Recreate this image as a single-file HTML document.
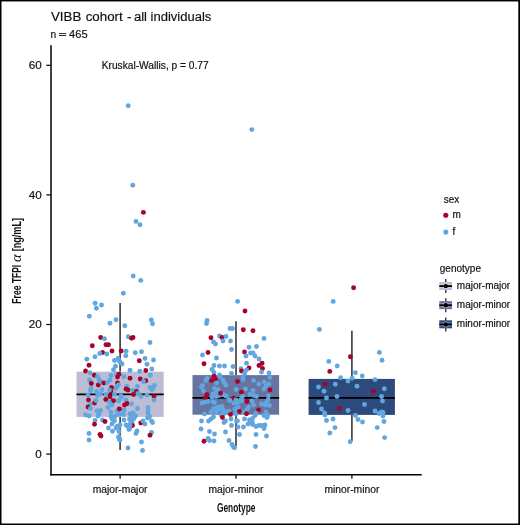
<!DOCTYPE html>
<html><head><meta charset="utf-8"><style>
html,body{margin:0;padding:0;background:#fff;}
svg{display:block;will-change:transform;font-family:"Liberation Sans",sans-serif;fill:#1a1a1a;}
text{fill:#111;stroke:#111;stroke-width:0.18px;}
</style></head><body>
<svg width="520" height="525" viewBox="0 0 520 525">
<rect x="0" y="0" width="520" height="525" fill="#fff"/>
<line x1="120.1" y1="303.0" x2="120.1" y2="371.7" stroke="#2b2b2b" stroke-width="1.5"/>
<line x1="120.1" y1="416.9" x2="120.1" y2="449.9" stroke="#2b2b2b" stroke-width="1.5"/>
<rect x="76.5" y="371.7" width="87.20" height="45.20" fill="#bbbdd4"/>
<line x1="76.5" y1="394.4" x2="163.7" y2="394.4" stroke="#000" stroke-width="1.8"/>
<line x1="236.0" y1="321.3" x2="236.0" y2="375.1" stroke="#2b2b2b" stroke-width="1.5"/>
<line x1="236.0" y1="414.7" x2="236.0" y2="446.2" stroke="#2b2b2b" stroke-width="1.5"/>
<rect x="192.5" y="375.1" width="86.60" height="39.60" fill="#67749f"/>
<line x1="192.5" y1="397.9" x2="279.1" y2="397.9" stroke="#000" stroke-width="1.8"/>
<line x1="351.9" y1="330.7" x2="351.9" y2="378.9" stroke="#2b2b2b" stroke-width="1.5"/>
<line x1="351.9" y1="414.9" x2="351.9" y2="441.0" stroke="#2b2b2b" stroke-width="1.5"/>
<rect x="308.6" y="378.9" width="86.30" height="36.00" fill="#2d4a7d"/>
<line x1="308.6" y1="397.9" x2="394.9" y2="397.9" stroke="#000" stroke-width="1.8"/>
<circle cx="128.2" cy="105.8" r="2.45" fill="#62a6e0"/>
<circle cx="132.8" cy="185.2" r="2.45" fill="#62a6e0"/>
<circle cx="143.4" cy="212.4" r="2.45" fill="#a6032b"/>
<circle cx="136.0" cy="221.4" r="2.45" fill="#62a6e0"/>
<circle cx="140.0" cy="224.8" r="2.45" fill="#62a6e0"/>
<circle cx="133.2" cy="276.0" r="2.45" fill="#62a6e0"/>
<circle cx="140.8" cy="280.4" r="2.45" fill="#62a6e0"/>
<circle cx="123.3" cy="293.2" r="2.45" fill="#62a6e0"/>
<circle cx="95.1" cy="303.3" r="2.45" fill="#62a6e0"/>
<circle cx="101.5" cy="305.0" r="2.45" fill="#62a6e0"/>
<circle cx="96.4" cy="308.2" r="2.45" fill="#62a6e0"/>
<circle cx="89.3" cy="316.2" r="2.45" fill="#62a6e0"/>
<circle cx="116.0" cy="319.8" r="2.45" fill="#62a6e0"/>
<circle cx="110.0" cy="323.2" r="2.45" fill="#62a6e0"/>
<circle cx="124.8" cy="325.8" r="2.45" fill="#62a6e0"/>
<circle cx="151.3" cy="320.0" r="2.45" fill="#62a6e0"/>
<circle cx="152.5" cy="323.8" r="2.45" fill="#62a6e0"/>
<circle cx="100.7" cy="337.5" r="2.45" fill="#a6032b"/>
<circle cx="104.5" cy="338.7" r="2.45" fill="#62a6e0"/>
<circle cx="92.3" cy="345.7" r="2.45" fill="#a6032b"/>
<circle cx="106.0" cy="344.8" r="2.45" fill="#a6032b"/>
<circle cx="108.5" cy="344.8" r="2.45" fill="#a6032b"/>
<circle cx="112.0" cy="351.0" r="2.45" fill="#a6032b"/>
<circle cx="121.2" cy="351.0" r="2.45" fill="#a6032b"/>
<circle cx="102.5" cy="352.5" r="2.45" fill="#a6032b"/>
<circle cx="99.8" cy="353.5" r="2.45" fill="#62a6e0"/>
<circle cx="106.8" cy="354.0" r="2.45" fill="#62a6e0"/>
<circle cx="95.0" cy="356.8" r="2.45" fill="#62a6e0"/>
<circle cx="86.8" cy="359.2" r="2.45" fill="#62a6e0"/>
<circle cx="114.5" cy="360.5" r="2.45" fill="#62a6e0"/>
<circle cx="118.0" cy="358.5" r="2.45" fill="#62a6e0"/>
<circle cx="120.0" cy="362.0" r="2.45" fill="#62a6e0"/>
<circle cx="89.0" cy="365.2" r="2.45" fill="#a6032b"/>
<circle cx="115.5" cy="366.2" r="2.45" fill="#62a6e0"/>
<circle cx="113.5" cy="369.8" r="2.45" fill="#62a6e0"/>
<circle cx="85.5" cy="371.0" r="2.45" fill="#a6032b"/>
<circle cx="89.8" cy="372.8" r="2.45" fill="#62a6e0"/>
<circle cx="94.3" cy="375.3" r="2.45" fill="#a6032b"/>
<circle cx="97.5" cy="376.5" r="2.45" fill="#62a6e0"/>
<circle cx="111.0" cy="375.5" r="2.45" fill="#62a6e0"/>
<circle cx="116.5" cy="374.0" r="2.45" fill="#62a6e0"/>
<circle cx="119.0" cy="374.3" r="2.45" fill="#a6032b"/>
<circle cx="117.5" cy="377.0" r="2.45" fill="#a6032b"/>
<circle cx="89.5" cy="380.0" r="2.45" fill="#62a6e0"/>
<circle cx="99.0" cy="379.5" r="2.45" fill="#62a6e0"/>
<circle cx="128.3" cy="336.8" r="2.45" fill="#62a6e0"/>
<circle cx="131.5" cy="338.2" r="2.45" fill="#a6032b"/>
<circle cx="133.0" cy="337.5" r="2.45" fill="#a6032b"/>
<circle cx="150.0" cy="342.5" r="2.45" fill="#62a6e0"/>
<circle cx="126.0" cy="351.3" r="2.45" fill="#62a6e0"/>
<circle cx="125.8" cy="355.8" r="2.45" fill="#62a6e0"/>
<circle cx="135.3" cy="352.8" r="2.45" fill="#62a6e0"/>
<circle cx="141.5" cy="351.8" r="2.45" fill="#62a6e0"/>
<circle cx="145.0" cy="358.5" r="2.45" fill="#62a6e0"/>
<circle cx="139.3" cy="360.8" r="2.45" fill="#a6032b"/>
<circle cx="153.5" cy="360.0" r="2.45" fill="#62a6e0"/>
<circle cx="147.0" cy="364.3" r="2.45" fill="#62a6e0"/>
<circle cx="122.0" cy="364.0" r="2.45" fill="#62a6e0"/>
<circle cx="118.5" cy="360.0" r="2.45" fill="#62a6e0"/>
<circle cx="130.0" cy="370.3" r="2.45" fill="#62a6e0"/>
<circle cx="139.8" cy="371.3" r="2.45" fill="#62a6e0"/>
<circle cx="145.8" cy="370.5" r="2.45" fill="#a6032b"/>
<circle cx="151.8" cy="369.0" r="2.45" fill="#62a6e0"/>
<circle cx="124.0" cy="376.8" r="2.45" fill="#62a6e0"/>
<circle cx="130.0" cy="378.2" r="2.45" fill="#a6032b"/>
<circle cx="140.3" cy="379.0" r="2.45" fill="#a6032b"/>
<circle cx="145.8" cy="380.8" r="2.45" fill="#a6032b"/>
<circle cx="143.5" cy="381.5" r="2.45" fill="#62a6e0"/>
<circle cx="150.3" cy="375.3" r="2.45" fill="#62a6e0"/>
<circle cx="91.3" cy="383.5" r="2.45" fill="#a6032b"/>
<circle cx="98.3" cy="385.0" r="2.45" fill="#a6032b"/>
<circle cx="100.5" cy="381.5" r="2.45" fill="#62a6e0"/>
<circle cx="103.8" cy="383.0" r="2.45" fill="#a6032b"/>
<circle cx="107.5" cy="382.5" r="2.45" fill="#62a6e0"/>
<circle cx="110.0" cy="380.0" r="2.45" fill="#62a6e0"/>
<circle cx="117.5" cy="383.0" r="2.45" fill="#a6032b"/>
<circle cx="117.0" cy="386.5" r="2.45" fill="#62a6e0"/>
<circle cx="115.5" cy="388.5" r="2.45" fill="#62a6e0"/>
<circle cx="111.5" cy="387.5" r="2.45" fill="#a6032b"/>
<circle cx="91.0" cy="388.5" r="2.45" fill="#62a6e0"/>
<circle cx="90.5" cy="390.5" r="2.45" fill="#62a6e0"/>
<circle cx="96.5" cy="391.5" r="2.45" fill="#62a6e0"/>
<circle cx="102.0" cy="389.5" r="2.45" fill="#62a6e0"/>
<circle cx="100.5" cy="394.0" r="2.45" fill="#62a6e0"/>
<circle cx="111.0" cy="392.0" r="2.45" fill="#a6032b"/>
<circle cx="109.5" cy="390.0" r="2.45" fill="#62a6e0"/>
<circle cx="88.0" cy="395.0" r="2.45" fill="#62a6e0"/>
<circle cx="97.5" cy="395.5" r="2.45" fill="#62a6e0"/>
<circle cx="106.0" cy="394.5" r="2.45" fill="#62a6e0"/>
<circle cx="114.5" cy="394.0" r="2.45" fill="#62a6e0"/>
<circle cx="121.0" cy="396.0" r="2.45" fill="#62a6e0"/>
<circle cx="88.5" cy="400.0" r="2.45" fill="#a6032b"/>
<circle cx="94.5" cy="403.0" r="2.45" fill="#a6032b"/>
<circle cx="105.8" cy="399.5" r="2.45" fill="#a6032b"/>
<circle cx="110.0" cy="396.8" r="2.45" fill="#a6032b"/>
<circle cx="113.5" cy="400.8" r="2.45" fill="#a6032b"/>
<circle cx="112.5" cy="401.5" r="2.45" fill="#a6032b"/>
<circle cx="96.0" cy="400.5" r="2.45" fill="#62a6e0"/>
<circle cx="90.0" cy="404.0" r="2.45" fill="#62a6e0"/>
<circle cx="109.5" cy="402.5" r="2.45" fill="#62a6e0"/>
<circle cx="118.5" cy="401.0" r="2.45" fill="#62a6e0"/>
<circle cx="112.0" cy="405.0" r="2.45" fill="#62a6e0"/>
<circle cx="88.0" cy="407.0" r="2.45" fill="#a6032b"/>
<circle cx="90.5" cy="408.5" r="2.45" fill="#62a6e0"/>
<circle cx="108.0" cy="407.5" r="2.45" fill="#62a6e0"/>
<circle cx="119.0" cy="409.3" r="2.45" fill="#a6032b"/>
<circle cx="97.0" cy="411.0" r="2.45" fill="#62a6e0"/>
<circle cx="100.5" cy="410.5" r="2.45" fill="#62a6e0"/>
<circle cx="99.0" cy="414.0" r="2.45" fill="#62a6e0"/>
<circle cx="111.0" cy="412.0" r="2.45" fill="#62a6e0"/>
<circle cx="117.0" cy="411.0" r="2.45" fill="#62a6e0"/>
<circle cx="85.5" cy="415.0" r="2.45" fill="#62a6e0"/>
<circle cx="89.0" cy="416.0" r="2.45" fill="#62a6e0"/>
<circle cx="98.0" cy="416.0" r="2.45" fill="#62a6e0"/>
<circle cx="111.0" cy="416.5" r="2.45" fill="#62a6e0"/>
<circle cx="115.0" cy="416.5" r="2.45" fill="#62a6e0"/>
<circle cx="118.0" cy="414.5" r="2.45" fill="#62a6e0"/>
<circle cx="95.0" cy="420.5" r="2.45" fill="#62a6e0"/>
<circle cx="102.5" cy="420.0" r="2.45" fill="#62a6e0"/>
<circle cx="105.0" cy="421.5" r="2.45" fill="#a6032b"/>
<circle cx="112.0" cy="419.0" r="2.45" fill="#62a6e0"/>
<circle cx="114.5" cy="421.0" r="2.45" fill="#62a6e0"/>
<circle cx="94.5" cy="424.3" r="2.45" fill="#a6032b"/>
<circle cx="112.0" cy="424.0" r="2.45" fill="#62a6e0"/>
<circle cx="108.5" cy="428.0" r="2.45" fill="#62a6e0"/>
<circle cx="117.0" cy="426.5" r="2.45" fill="#62a6e0"/>
<circle cx="120.0" cy="425.0" r="2.45" fill="#62a6e0"/>
<circle cx="118.5" cy="385.0" r="2.45" fill="#62a6e0"/>
<circle cx="126.8" cy="386.3" r="2.45" fill="#62a6e0"/>
<circle cx="126.0" cy="389.0" r="2.45" fill="#a6032b"/>
<circle cx="128.0" cy="390.0" r="2.45" fill="#a6032b"/>
<circle cx="137.5" cy="386.5" r="2.45" fill="#62a6e0"/>
<circle cx="133.0" cy="390.5" r="2.45" fill="#62a6e0"/>
<circle cx="136.5" cy="391.5" r="2.45" fill="#a6032b"/>
<circle cx="133.5" cy="394.5" r="2.45" fill="#a6032b"/>
<circle cx="138.0" cy="393.5" r="2.45" fill="#62a6e0"/>
<circle cx="141.0" cy="396.5" r="2.45" fill="#62a6e0"/>
<circle cx="147.0" cy="395.0" r="2.45" fill="#62a6e0"/>
<circle cx="150.0" cy="387.5" r="2.45" fill="#62a6e0"/>
<circle cx="152.0" cy="389.5" r="2.45" fill="#62a6e0"/>
<circle cx="154.5" cy="385.5" r="2.45" fill="#62a6e0"/>
<circle cx="153.0" cy="388.0" r="2.45" fill="#62a6e0"/>
<circle cx="154.0" cy="396.5" r="2.45" fill="#a6032b"/>
<circle cx="154.0" cy="400.0" r="2.45" fill="#62a6e0"/>
<circle cx="121.5" cy="397.0" r="2.45" fill="#62a6e0"/>
<circle cx="119.0" cy="400.5" r="2.45" fill="#62a6e0"/>
<circle cx="126.0" cy="400.0" r="2.45" fill="#62a6e0"/>
<circle cx="124.5" cy="405.0" r="2.45" fill="#a6032b"/>
<circle cx="127.0" cy="403.5" r="2.45" fill="#a6032b"/>
<circle cx="131.5" cy="404.0" r="2.45" fill="#62a6e0"/>
<circle cx="137.5" cy="408.5" r="2.45" fill="#62a6e0"/>
<circle cx="119.5" cy="409.0" r="2.45" fill="#a6032b"/>
<circle cx="124.0" cy="410.0" r="2.45" fill="#62a6e0"/>
<circle cx="148.0" cy="407.5" r="2.45" fill="#62a6e0"/>
<circle cx="148.0" cy="411.0" r="2.45" fill="#62a6e0"/>
<circle cx="148.0" cy="413.0" r="2.45" fill="#62a6e0"/>
<circle cx="120.0" cy="414.0" r="2.45" fill="#62a6e0"/>
<circle cx="123.5" cy="414.5" r="2.45" fill="#62a6e0"/>
<circle cx="130.0" cy="414.0" r="2.45" fill="#62a6e0"/>
<circle cx="133.0" cy="413.0" r="2.45" fill="#62a6e0"/>
<circle cx="131.0" cy="417.0" r="2.45" fill="#62a6e0"/>
<circle cx="135.5" cy="416.0" r="2.45" fill="#62a6e0"/>
<circle cx="129.5" cy="419.0" r="2.45" fill="#62a6e0"/>
<circle cx="134.0" cy="418.5" r="2.45" fill="#62a6e0"/>
<circle cx="124.0" cy="420.0" r="2.45" fill="#62a6e0"/>
<circle cx="132.0" cy="422.0" r="2.45" fill="#62a6e0"/>
<circle cx="130.0" cy="424.5" r="2.45" fill="#62a6e0"/>
<circle cx="132.5" cy="425.5" r="2.45" fill="#a6032b"/>
<circle cx="128.0" cy="426.5" r="2.45" fill="#62a6e0"/>
<circle cx="126.0" cy="425.0" r="2.45" fill="#62a6e0"/>
<circle cx="140.8" cy="423.0" r="2.45" fill="#a6032b"/>
<circle cx="143.0" cy="421.0" r="2.45" fill="#62a6e0"/>
<circle cx="145.0" cy="424.0" r="2.45" fill="#62a6e0"/>
<circle cx="149.5" cy="416.5" r="2.45" fill="#62a6e0"/>
<circle cx="147.5" cy="418.0" r="2.45" fill="#62a6e0"/>
<circle cx="151.5" cy="421.0" r="2.45" fill="#62a6e0"/>
<circle cx="152.5" cy="422.5" r="2.45" fill="#62a6e0"/>
<circle cx="119.0" cy="426.0" r="2.45" fill="#62a6e0"/>
<circle cx="129.5" cy="428.5" r="2.45" fill="#62a6e0"/>
<circle cx="112.5" cy="431.3" r="2.45" fill="#62a6e0"/>
<circle cx="116.0" cy="428.0" r="2.45" fill="#62a6e0"/>
<circle cx="118.0" cy="426.5" r="2.45" fill="#62a6e0"/>
<circle cx="119.0" cy="431.5" r="2.45" fill="#62a6e0"/>
<circle cx="118.5" cy="437.0" r="2.45" fill="#62a6e0"/>
<circle cx="119.5" cy="439.5" r="2.45" fill="#62a6e0"/>
<circle cx="89.0" cy="433.5" r="2.45" fill="#62a6e0"/>
<circle cx="89.0" cy="440.0" r="2.45" fill="#62a6e0"/>
<circle cx="100.0" cy="434.5" r="2.45" fill="#a6032b"/>
<circle cx="101.0" cy="436.0" r="2.45" fill="#a6032b"/>
<circle cx="131.0" cy="421.5" r="2.45" fill="#62a6e0"/>
<circle cx="127.0" cy="425.5" r="2.45" fill="#62a6e0"/>
<circle cx="130.0" cy="425.5" r="2.45" fill="#62a6e0"/>
<circle cx="129.0" cy="429.5" r="2.45" fill="#62a6e0"/>
<circle cx="137.0" cy="431.0" r="2.45" fill="#62a6e0"/>
<circle cx="136.0" cy="433.5" r="2.45" fill="#62a6e0"/>
<circle cx="151.5" cy="432.5" r="2.45" fill="#62a6e0"/>
<circle cx="150.0" cy="435.3" r="2.45" fill="#a6032b"/>
<circle cx="119.0" cy="437.0" r="2.45" fill="#62a6e0"/>
<circle cx="120.0" cy="440.0" r="2.45" fill="#62a6e0"/>
<circle cx="141.5" cy="442.0" r="2.45" fill="#62a6e0"/>
<circle cx="128.0" cy="448.0" r="2.45" fill="#62a6e0"/>
<circle cx="142.5" cy="450.5" r="2.45" fill="#62a6e0"/>
<circle cx="251.8" cy="129.6" r="2.45" fill="#62a6e0"/>
<circle cx="237.6" cy="301.4" r="2.45" fill="#62a6e0"/>
<circle cx="245.0" cy="311.0" r="2.45" fill="#a6032b"/>
<circle cx="207.0" cy="320.5" r="2.45" fill="#62a6e0"/>
<circle cx="206.5" cy="323.5" r="2.45" fill="#62a6e0"/>
<circle cx="230.0" cy="328.5" r="2.45" fill="#62a6e0"/>
<circle cx="232.5" cy="328.5" r="2.45" fill="#62a6e0"/>
<circle cx="211.0" cy="337.8" r="2.45" fill="#a6032b"/>
<circle cx="219.5" cy="336.0" r="2.45" fill="#62a6e0"/>
<circle cx="222.0" cy="337.5" r="2.45" fill="#a6032b"/>
<circle cx="226.0" cy="336.5" r="2.45" fill="#62a6e0"/>
<circle cx="223.0" cy="341.0" r="2.45" fill="#62a6e0"/>
<circle cx="230.5" cy="341.0" r="2.45" fill="#62a6e0"/>
<circle cx="213.5" cy="342.0" r="2.45" fill="#62a6e0"/>
<circle cx="215.5" cy="344.0" r="2.45" fill="#62a6e0"/>
<circle cx="231.5" cy="349.5" r="2.45" fill="#62a6e0"/>
<circle cx="208.0" cy="352.5" r="2.45" fill="#a6032b"/>
<circle cx="202.5" cy="355.0" r="2.45" fill="#62a6e0"/>
<circle cx="243.3" cy="329.8" r="2.45" fill="#a6032b"/>
<circle cx="253.0" cy="330.8" r="2.45" fill="#a6032b"/>
<circle cx="264.0" cy="338.5" r="2.45" fill="#62a6e0"/>
<circle cx="249.0" cy="347.3" r="2.45" fill="#62a6e0"/>
<circle cx="256.5" cy="346.5" r="2.45" fill="#62a6e0"/>
<circle cx="244.5" cy="352.0" r="2.45" fill="#a6032b"/>
<circle cx="250.5" cy="353.0" r="2.45" fill="#62a6e0"/>
<circle cx="253.0" cy="353.0" r="2.45" fill="#62a6e0"/>
<circle cx="246.0" cy="356.0" r="2.45" fill="#62a6e0"/>
<circle cx="255.0" cy="356.0" r="2.45" fill="#62a6e0"/>
<circle cx="216.5" cy="358.0" r="2.45" fill="#62a6e0"/>
<circle cx="204.0" cy="363.8" r="2.45" fill="#a6032b"/>
<circle cx="214.0" cy="365.5" r="2.45" fill="#62a6e0"/>
<circle cx="219.5" cy="366.0" r="2.45" fill="#62a6e0"/>
<circle cx="224.5" cy="366.0" r="2.45" fill="#62a6e0"/>
<circle cx="233.0" cy="366.5" r="2.45" fill="#62a6e0"/>
<circle cx="212.0" cy="369.5" r="2.45" fill="#62a6e0"/>
<circle cx="214.0" cy="372.5" r="2.45" fill="#62a6e0"/>
<circle cx="231.5" cy="373.5" r="2.45" fill="#62a6e0"/>
<circle cx="219.5" cy="375.0" r="2.45" fill="#62a6e0"/>
<circle cx="220.0" cy="376.5" r="2.45" fill="#62a6e0"/>
<circle cx="214.0" cy="376.3" r="2.45" fill="#a6032b"/>
<circle cx="211.5" cy="380.5" r="2.45" fill="#a6032b"/>
<circle cx="215.5" cy="379.5" r="2.45" fill="#a6032b"/>
<circle cx="207.0" cy="378.5" r="2.45" fill="#62a6e0"/>
<circle cx="206.0" cy="380.5" r="2.45" fill="#62a6e0"/>
<circle cx="216.5" cy="383.0" r="2.45" fill="#62a6e0"/>
<circle cx="223.0" cy="380.0" r="2.45" fill="#62a6e0"/>
<circle cx="224.0" cy="382.5" r="2.45" fill="#62a6e0"/>
<circle cx="226.0" cy="385.0" r="2.45" fill="#62a6e0"/>
<circle cx="202.5" cy="385.5" r="2.45" fill="#62a6e0"/>
<circle cx="201.5" cy="387.0" r="2.45" fill="#62a6e0"/>
<circle cx="237.5" cy="381.5" r="2.45" fill="#a6032b"/>
<circle cx="214.5" cy="388.5" r="2.45" fill="#62a6e0"/>
<circle cx="218.0" cy="389.5" r="2.45" fill="#62a6e0"/>
<circle cx="203.5" cy="391.0" r="2.45" fill="#62a6e0"/>
<circle cx="236.0" cy="389.5" r="2.45" fill="#62a6e0"/>
<circle cx="213.0" cy="394.0" r="2.45" fill="#62a6e0"/>
<circle cx="216.0" cy="392.5" r="2.45" fill="#62a6e0"/>
<circle cx="207.0" cy="394.8" r="2.45" fill="#a6032b"/>
<circle cx="205.5" cy="398.0" r="2.45" fill="#a6032b"/>
<circle cx="219.0" cy="395.5" r="2.45" fill="#62a6e0"/>
<circle cx="223.0" cy="394.5" r="2.45" fill="#62a6e0"/>
<circle cx="226.0" cy="396.0" r="2.45" fill="#62a6e0"/>
<circle cx="212.0" cy="397.0" r="2.45" fill="#62a6e0"/>
<circle cx="216.0" cy="396.5" r="2.45" fill="#62a6e0"/>
<circle cx="233.5" cy="398.3" r="2.45" fill="#a6032b"/>
<circle cx="229.0" cy="399.5" r="2.45" fill="#62a6e0"/>
<circle cx="236.0" cy="400.0" r="2.45" fill="#62a6e0"/>
<circle cx="208.0" cy="401.5" r="2.45" fill="#62a6e0"/>
<circle cx="213.0" cy="402.0" r="2.45" fill="#62a6e0"/>
<circle cx="202.0" cy="403.0" r="2.45" fill="#62a6e0"/>
<circle cx="234.0" cy="403.0" r="2.45" fill="#62a6e0"/>
<circle cx="259.0" cy="359.0" r="2.45" fill="#62a6e0"/>
<circle cx="246.5" cy="363.3" r="2.45" fill="#62a6e0"/>
<circle cx="259.0" cy="365.5" r="2.45" fill="#a6032b"/>
<circle cx="262.0" cy="363.3" r="2.45" fill="#a6032b"/>
<circle cx="262.5" cy="368.5" r="2.45" fill="#a6032b"/>
<circle cx="261.5" cy="372.0" r="2.45" fill="#62a6e0"/>
<circle cx="241.0" cy="368.8" r="2.45" fill="#62a6e0"/>
<circle cx="241.5" cy="371.0" r="2.45" fill="#a6032b"/>
<circle cx="249.0" cy="368.0" r="2.45" fill="#a6032b"/>
<circle cx="246.5" cy="370.0" r="2.45" fill="#62a6e0"/>
<circle cx="244.5" cy="373.5" r="2.45" fill="#62a6e0"/>
<circle cx="269.0" cy="373.0" r="2.45" fill="#62a6e0"/>
<circle cx="270.0" cy="377.5" r="2.45" fill="#62a6e0"/>
<circle cx="243.0" cy="377.5" r="2.45" fill="#62a6e0"/>
<circle cx="243.0" cy="379.5" r="2.45" fill="#62a6e0"/>
<circle cx="253.5" cy="380.5" r="2.45" fill="#62a6e0"/>
<circle cx="264.5" cy="382.0" r="2.45" fill="#62a6e0"/>
<circle cx="259.0" cy="384.0" r="2.45" fill="#62a6e0"/>
<circle cx="269.0" cy="384.0" r="2.45" fill="#62a6e0"/>
<circle cx="266.0" cy="386.0" r="2.45" fill="#62a6e0"/>
<circle cx="264.0" cy="389.0" r="2.45" fill="#62a6e0"/>
<circle cx="270.0" cy="390.0" r="2.45" fill="#a6032b"/>
<circle cx="245.5" cy="389.0" r="2.45" fill="#62a6e0"/>
<circle cx="241.5" cy="392.3" r="2.45" fill="#a6032b"/>
<circle cx="253.0" cy="390.5" r="2.45" fill="#62a6e0"/>
<circle cx="250.0" cy="394.5" r="2.45" fill="#62a6e0"/>
<circle cx="254.0" cy="395.5" r="2.45" fill="#62a6e0"/>
<circle cx="256.5" cy="396.5" r="2.45" fill="#62a6e0"/>
<circle cx="242.5" cy="396.5" r="2.45" fill="#62a6e0"/>
<circle cx="241.0" cy="399.5" r="2.45" fill="#62a6e0"/>
<circle cx="268.5" cy="396.0" r="2.45" fill="#62a6e0"/>
<circle cx="268.0" cy="400.0" r="2.45" fill="#62a6e0"/>
<circle cx="247.0" cy="401.5" r="2.45" fill="#a6032b"/>
<circle cx="252.0" cy="401.0" r="2.45" fill="#62a6e0"/>
<circle cx="238.0" cy="402.5" r="2.45" fill="#62a6e0"/>
<circle cx="261.5" cy="404.0" r="2.45" fill="#62a6e0"/>
<circle cx="266.0" cy="403.0" r="2.45" fill="#62a6e0"/>
<circle cx="205.0" cy="402.0" r="2.45" fill="#62a6e0"/>
<circle cx="214.5" cy="402.5" r="2.45" fill="#62a6e0"/>
<circle cx="230.0" cy="400.5" r="2.45" fill="#62a6e0"/>
<circle cx="235.5" cy="403.0" r="2.45" fill="#62a6e0"/>
<circle cx="213.5" cy="408.5" r="2.45" fill="#62a6e0"/>
<circle cx="217.0" cy="407.5" r="2.45" fill="#62a6e0"/>
<circle cx="220.0" cy="407.0" r="2.45" fill="#62a6e0"/>
<circle cx="222.0" cy="406.5" r="2.45" fill="#62a6e0"/>
<circle cx="219.0" cy="409.5" r="2.45" fill="#62a6e0"/>
<circle cx="211.0" cy="412.0" r="2.45" fill="#62a6e0"/>
<circle cx="216.0" cy="412.5" r="2.45" fill="#62a6e0"/>
<circle cx="223.0" cy="410.0" r="2.45" fill="#62a6e0"/>
<circle cx="226.0" cy="412.0" r="2.45" fill="#62a6e0"/>
<circle cx="229.0" cy="411.0" r="2.45" fill="#62a6e0"/>
<circle cx="235.0" cy="409.0" r="2.45" fill="#62a6e0"/>
<circle cx="204.5" cy="414.0" r="2.45" fill="#62a6e0"/>
<circle cx="221.0" cy="415.0" r="2.45" fill="#62a6e0"/>
<circle cx="224.0" cy="413.5" r="2.45" fill="#62a6e0"/>
<circle cx="230.5" cy="414.5" r="2.45" fill="#a6032b"/>
<circle cx="235.5" cy="414.0" r="2.45" fill="#62a6e0"/>
<circle cx="222.5" cy="417.5" r="2.45" fill="#a6032b"/>
<circle cx="213.5" cy="417.0" r="2.45" fill="#62a6e0"/>
<circle cx="211.0" cy="419.0" r="2.45" fill="#62a6e0"/>
<circle cx="208.5" cy="421.0" r="2.45" fill="#62a6e0"/>
<circle cx="201.5" cy="421.0" r="2.45" fill="#62a6e0"/>
<circle cx="231.0" cy="419.0" r="2.45" fill="#62a6e0"/>
<circle cx="225.5" cy="421.0" r="2.45" fill="#62a6e0"/>
<circle cx="224.0" cy="422.5" r="2.45" fill="#62a6e0"/>
<circle cx="236.5" cy="421.0" r="2.45" fill="#62a6e0"/>
<circle cx="231.5" cy="425.5" r="2.45" fill="#62a6e0"/>
<circle cx="201.0" cy="429.0" r="2.45" fill="#62a6e0"/>
<circle cx="209.5" cy="431.5" r="2.45" fill="#62a6e0"/>
<circle cx="214.5" cy="434.0" r="2.45" fill="#62a6e0"/>
<circle cx="225.5" cy="432.0" r="2.45" fill="#62a6e0"/>
<circle cx="208.0" cy="438.5" r="2.45" fill="#62a6e0"/>
<circle cx="209.5" cy="440.5" r="2.45" fill="#62a6e0"/>
<circle cx="214.0" cy="441.0" r="2.45" fill="#62a6e0"/>
<circle cx="204.0" cy="441.3" r="2.45" fill="#a6032b"/>
<circle cx="229.0" cy="440.5" r="2.45" fill="#62a6e0"/>
<circle cx="232.0" cy="444.5" r="2.45" fill="#62a6e0"/>
<circle cx="233.5" cy="447.0" r="2.45" fill="#62a6e0"/>
<circle cx="234.5" cy="447.8" r="2.45" fill="#62a6e0"/>
<circle cx="241.5" cy="401.0" r="2.45" fill="#62a6e0"/>
<circle cx="253.5" cy="405.0" r="2.45" fill="#62a6e0"/>
<circle cx="265.0" cy="405.0" r="2.45" fill="#62a6e0"/>
<circle cx="269.5" cy="405.5" r="2.45" fill="#62a6e0"/>
<circle cx="238.0" cy="407.5" r="2.45" fill="#62a6e0"/>
<circle cx="248.5" cy="407.0" r="2.45" fill="#62a6e0"/>
<circle cx="247.0" cy="409.5" r="2.45" fill="#62a6e0"/>
<circle cx="243.0" cy="412.0" r="2.45" fill="#62a6e0"/>
<circle cx="246.5" cy="413.8" r="2.45" fill="#a6032b"/>
<circle cx="258.5" cy="410.0" r="2.45" fill="#a6032b"/>
<circle cx="236.5" cy="413.5" r="2.45" fill="#62a6e0"/>
<circle cx="256.0" cy="413.5" r="2.45" fill="#62a6e0"/>
<circle cx="255.0" cy="415.5" r="2.45" fill="#62a6e0"/>
<circle cx="266.0" cy="412.0" r="2.45" fill="#62a6e0"/>
<circle cx="264.0" cy="415.5" r="2.45" fill="#62a6e0"/>
<circle cx="267.5" cy="415.5" r="2.45" fill="#62a6e0"/>
<circle cx="267.0" cy="417.5" r="2.45" fill="#62a6e0"/>
<circle cx="252.5" cy="418.5" r="2.45" fill="#62a6e0"/>
<circle cx="244.5" cy="419.0" r="2.45" fill="#62a6e0"/>
<circle cx="237.5" cy="421.0" r="2.45" fill="#62a6e0"/>
<circle cx="249.5" cy="420.0" r="2.45" fill="#62a6e0"/>
<circle cx="251.5" cy="421.5" r="2.45" fill="#62a6e0"/>
<circle cx="252.5" cy="423.0" r="2.45" fill="#62a6e0"/>
<circle cx="248.0" cy="424.0" r="2.45" fill="#62a6e0"/>
<circle cx="252.5" cy="424.5" r="2.45" fill="#62a6e0"/>
<circle cx="238.0" cy="427.0" r="2.45" fill="#62a6e0"/>
<circle cx="243.5" cy="427.0" r="2.45" fill="#62a6e0"/>
<circle cx="256.0" cy="426.5" r="2.45" fill="#62a6e0"/>
<circle cx="259.0" cy="425.5" r="2.45" fill="#62a6e0"/>
<circle cx="261.5" cy="425.5" r="2.45" fill="#62a6e0"/>
<circle cx="265.0" cy="425.0" r="2.45" fill="#62a6e0"/>
<circle cx="264.0" cy="428.5" r="2.45" fill="#62a6e0"/>
<circle cx="239.5" cy="434.5" r="2.45" fill="#62a6e0"/>
<circle cx="256.0" cy="434.5" r="2.45" fill="#62a6e0"/>
<circle cx="266.5" cy="436.0" r="2.45" fill="#62a6e0"/>
<circle cx="255.5" cy="446.5" r="2.45" fill="#62a6e0"/>
<circle cx="353.6" cy="287.8" r="2.45" fill="#a6032b"/>
<circle cx="333.2" cy="301.4" r="2.45" fill="#62a6e0"/>
<circle cx="319.4" cy="329.4" r="2.45" fill="#62a6e0"/>
<circle cx="379.4" cy="352.4" r="2.45" fill="#62a6e0"/>
<circle cx="382.0" cy="360.2" r="2.45" fill="#62a6e0"/>
<circle cx="350.4" cy="356.8" r="2.45" fill="#a6032b"/>
<circle cx="328.8" cy="361.4" r="2.45" fill="#62a6e0"/>
<circle cx="337.2" cy="366.0" r="2.45" fill="#62a6e0"/>
<circle cx="329.8" cy="371.4" r="2.45" fill="#a6032b"/>
<circle cx="355.4" cy="372.8" r="2.45" fill="#62a6e0"/>
<circle cx="362.2" cy="376.0" r="2.45" fill="#62a6e0"/>
<circle cx="340.6" cy="377.8" r="2.45" fill="#62a6e0"/>
<circle cx="352.2" cy="378.0" r="2.45" fill="#62a6e0"/>
<circle cx="348.0" cy="381.0" r="2.45" fill="#62a6e0"/>
<circle cx="375.0" cy="379.6" r="2.45" fill="#62a6e0"/>
<circle cx="325.0" cy="384.0" r="2.45" fill="#a6032b"/>
<circle cx="335.3" cy="384.3" r="2.45" fill="#62a6e0"/>
<circle cx="318.5" cy="387.0" r="2.45" fill="#62a6e0"/>
<circle cx="324.0" cy="391.3" r="2.45" fill="#62a6e0"/>
<circle cx="326.5" cy="398.0" r="2.45" fill="#62a6e0"/>
<circle cx="337.0" cy="396.5" r="2.45" fill="#62a6e0"/>
<circle cx="318.5" cy="402.5" r="2.45" fill="#62a6e0"/>
<circle cx="321.5" cy="409.0" r="2.45" fill="#62a6e0"/>
<circle cx="339.3" cy="408.5" r="2.45" fill="#a6032b"/>
<circle cx="348.0" cy="410.5" r="2.45" fill="#62a6e0"/>
<circle cx="324.5" cy="413.0" r="2.45" fill="#62a6e0"/>
<circle cx="325.0" cy="415.0" r="2.45" fill="#62a6e0"/>
<circle cx="326.5" cy="420.5" r="2.45" fill="#62a6e0"/>
<circle cx="333.0" cy="419.0" r="2.45" fill="#62a6e0"/>
<circle cx="357.0" cy="386.3" r="2.45" fill="#62a6e0"/>
<circle cx="373.3" cy="391.3" r="2.45" fill="#a6032b"/>
<circle cx="384.3" cy="388.8" r="2.45" fill="#62a6e0"/>
<circle cx="381.5" cy="396.5" r="2.45" fill="#62a6e0"/>
<circle cx="382.5" cy="401.0" r="2.45" fill="#62a6e0"/>
<circle cx="364.5" cy="404.5" r="2.45" fill="#62a6e0"/>
<circle cx="375.0" cy="411.0" r="2.45" fill="#62a6e0"/>
<circle cx="379.0" cy="413.5" r="2.45" fill="#62a6e0"/>
<circle cx="381.5" cy="412.0" r="2.45" fill="#62a6e0"/>
<circle cx="383.0" cy="412.5" r="2.45" fill="#62a6e0"/>
<circle cx="383.0" cy="416.0" r="2.45" fill="#62a6e0"/>
<circle cx="355.5" cy="415.5" r="2.45" fill="#62a6e0"/>
<circle cx="358.0" cy="419.5" r="2.45" fill="#62a6e0"/>
<circle cx="362.5" cy="422.0" r="2.45" fill="#62a6e0"/>
<circle cx="384.0" cy="421.5" r="2.45" fill="#62a6e0"/>
<circle cx="335.0" cy="427.6" r="2.45" fill="#62a6e0"/>
<circle cx="329.8" cy="433.0" r="2.45" fill="#62a6e0"/>
<circle cx="350.2" cy="441.8" r="2.45" fill="#62a6e0"/>
<circle cx="377.2" cy="427.6" r="2.45" fill="#62a6e0"/>
<circle cx="384.6" cy="437.6" r="2.45" fill="#62a6e0"/>
<circle cx="220.5" cy="393.3" r="2.45" fill="#a6032b"/>
<circle cx="239.5" cy="411.5" r="2.45" fill="#a6032b"/>
<line x1="51" y1="45.3" x2="51" y2="475.5" stroke="#000" stroke-width="1.5"/>
<line x1="50.25" y1="474.8" x2="421.7" y2="474.8" stroke="#000" stroke-width="1.5"/>
<line x1="46.3" y1="454.1" x2="51" y2="454.1" stroke="#000" stroke-width="1.2"/>
<text x="41.8" y="457.8" text-anchor="end" font-size="11.7">0</text>
<line x1="46.3" y1="324.5" x2="51" y2="324.5" stroke="#000" stroke-width="1.2"/>
<text x="41.8" y="328.2" text-anchor="end" font-size="11.7">20</text>
<line x1="46.3" y1="194.9" x2="51" y2="194.9" stroke="#000" stroke-width="1.2"/>
<text x="41.8" y="198.6" text-anchor="end" font-size="11.7">40</text>
<line x1="46.3" y1="65.3" x2="51" y2="65.3" stroke="#000" stroke-width="1.2"/>
<text x="41.8" y="69.0" text-anchor="end" font-size="11.7">60</text>
<line x1="120.1" y1="474.8" x2="120.1" y2="478.8" stroke="#000" stroke-width="1.2"/>
<text x="120.1" y="492.7" text-anchor="middle" font-size="10.3">major-major</text>
<line x1="236.0" y1="474.8" x2="236.0" y2="478.8" stroke="#000" stroke-width="1.2"/>
<text x="236.0" y="492.7" text-anchor="middle" font-size="10.3">major-minor</text>
<line x1="351.9" y1="474.8" x2="351.9" y2="478.8" stroke="#000" stroke-width="1.2"/>
<text x="351.9" y="492.7" text-anchor="middle" font-size="10.3">minor-minor</text>
<text x="51.0" y="21.4" font-size="13.3" word-spacing="0.7">VIBB cohort -</text>
<text transform="translate(133.9,21.4) scale(0.965,1)" font-size="13.5">all individuals</text>
<text x="50.6" y="37.7" font-size="10.2">n</text>
<rect x="59" y="33.1" width="7.2" height="0.95" fill="#1a1a1a"/>
<rect x="59" y="35.0" width="7.2" height="0.95" fill="#1a1a1a"/>
<text transform="translate(69.1,38.0) scale(1.1,1)" font-size="10.1">465</text>
<text x="155.2" y="69.3" text-anchor="middle" font-size="10.2">Kruskal-Wallis, p = 0.77</text>
<text transform="translate(20.7,294.55) rotate(-90) scale(0.662,1)" text-anchor="middle" font-size="13" style="stroke-width:0px" font-weight="bold">Free</text>
<text transform="translate(20.7,273.95) rotate(-90) scale(0.65,1)" text-anchor="middle" font-size="13" style="stroke-width:0px" font-weight="bold">TFPI</text>
<text transform="translate(20.7,258.3) rotate(-90) scale(1.0,1)" text-anchor="middle" font-size="14.5" style="stroke-width:0px" font-family="Liberation Serif" font-style="italic">α</text>
<text transform="translate(20.7,234.65) rotate(-90) scale(0.7,1)" text-anchor="middle" font-size="13" style="stroke-width:0px" font-weight="bold">[ng/mL]</text>
<text transform="translate(236.2,511.5) scale(0.625,1)" text-anchor="middle" font-size="13.4" font-weight="bold" style="stroke-width:0px">Genotype</text>
<text x="443.8" y="202.6" font-size="10">sex</text>
<circle cx="445.8" cy="215.3" r="2.55" fill="#a6032b"/>
<text x="452.6" y="218.4" font-size="10">m</text>
<circle cx="445.8" cy="232.1" r="2.55" fill="#62a6e0"/>
<text x="452.6" y="234.5" font-size="10">f</text>
<text x="439.8" y="272.3" font-size="10">genotype</text>
<line x1="445.8" y1="279.10" x2="445.8" y2="293.10" stroke="#000" stroke-width="1.1"/>
<rect x="439.3" y="282.00" width="12.7" height="8" fill="#bbbdd4"/>
<line x1="439.3" y1="286.10" x2="452" y2="286.10" stroke="#fff" stroke-opacity="0.35" stroke-width="3.9"/>
<circle cx="445.8" cy="286.10" r="3.1" fill="#fff" fill-opacity="0.35"/>
<line x1="439.3" y1="286.10" x2="452" y2="286.10" stroke="#000" stroke-width="1.9"/>
<circle cx="445.8" cy="286.10" r="2.2" fill="#000"/>
<text x="456.8" y="289.1" font-size="10">major-major</text>
<line x1="445.8" y1="298.25" x2="445.8" y2="312.25" stroke="#000" stroke-width="1.1"/>
<rect x="439.3" y="301.15" width="12.7" height="8" fill="#67749f"/>
<line x1="439.3" y1="305.25" x2="452" y2="305.25" stroke="#fff" stroke-opacity="0.35" stroke-width="3.9"/>
<circle cx="445.8" cy="305.25" r="3.1" fill="#fff" fill-opacity="0.35"/>
<line x1="439.3" y1="305.25" x2="452" y2="305.25" stroke="#000" stroke-width="1.9"/>
<circle cx="445.8" cy="305.25" r="2.2" fill="#000"/>
<text x="456.8" y="308.2" font-size="10">major-minor</text>
<line x1="445.8" y1="317.40" x2="445.8" y2="331.40" stroke="#000" stroke-width="1.1"/>
<rect x="439.3" y="320.30" width="12.7" height="8" fill="#2d4a7d"/>
<line x1="439.3" y1="324.40" x2="452" y2="324.40" stroke="#fff" stroke-opacity="0.35" stroke-width="3.9"/>
<circle cx="445.8" cy="324.40" r="3.1" fill="#fff" fill-opacity="0.35"/>
<line x1="439.3" y1="324.40" x2="452" y2="324.40" stroke="#000" stroke-width="1.9"/>
<circle cx="445.8" cy="324.40" r="2.2" fill="#000"/>
<text x="456.8" y="327.4" font-size="10">minor-minor</text>
<rect x="0" y="0" width="520" height="1.45" fill="#000"/>
<rect x="0" y="0" width="1.5" height="525" fill="#000"/>
<rect x="518.3" y="0" width="1.7" height="525" fill="#000"/>
<rect x="0" y="523.5" width="520" height="1.5" fill="#000"/>
</svg>
</body></html>
